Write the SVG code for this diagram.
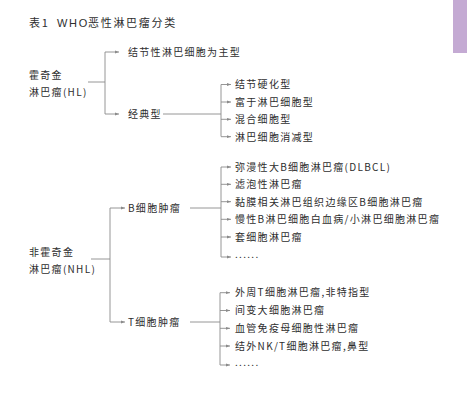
<svg xmlns="http://www.w3.org/2000/svg" width="467" height="401" viewBox="0 0 467 401">
<style>
text{font-family:"Noto Sans CJK SC","Liberation Sans",sans-serif;font-size:10px;fill:#2e2e2e;letter-spacing:1.3px}
.t{font-size:11px;letter-spacing:1.7px}
.l{font-family:"Liberation Sans","Noto Sans CJK SC",sans-serif}
.c line,.c path{stroke:#8a8a8a;stroke-width:0.9;fill:none}
.a{marker-end:url(#ah)}
</style>
<defs>
<marker id="ah" markerWidth="5" markerHeight="4" refX="4" refY="2" orient="auto" markerUnits="userSpaceOnUse">
<path d="M0,0.6 L4,2 L0,3.4 Z" fill="#8a8a8a"/>
</marker>
</defs>
<rect x="453" y="0" width="14" height="53" fill="#c4aad3"/>
<g id="title"><text class="t" x="29" y="27">表1</text><text class="t l" x="57" y="27">WHO</text><text class="t" x="88" y="27">恶性淋巴瘤分类</text></g>
<g class="c">
<line x1="88" y1="82" x2="105" y2="82"/>
<path d="M105,52 V114"/>
<line class="a" x1="105" y1="52" x2="119" y2="52"/>
<line class="a" x1="105" y1="114" x2="119" y2="114"/>
<line x1="163" y1="114" x2="221" y2="114"/>
<path d="M221,84.5 V136.5"/>
<line class="a" x1="221" y1="84.5" x2="231" y2="84.5"/>
<line class="a" x1="221" y1="102" x2="231" y2="102"/>
<line class="a" x1="221" y1="119.3" x2="231" y2="119.3"/>
<line class="a" x1="221" y1="136.7" x2="231" y2="136.7"/>
<line x1="91" y1="259" x2="110" y2="259"/>
<path d="M110,208 V322"/>
<line class="a" x1="110" y1="208" x2="125" y2="208"/>
<line class="a" x1="110" y1="322" x2="125" y2="322"/>
<line x1="190" y1="208" x2="221" y2="208"/>
<path d="M221,167 V257"/>
<line class="a" x1="221" y1="167" x2="231" y2="167"/>
<line class="a" x1="221" y1="184.3" x2="231" y2="184.3"/>
<line class="a" x1="221" y1="201.7" x2="231" y2="201.7"/>
<line class="a" x1="221" y1="219.3" x2="231" y2="219.3"/>
<line class="a" x1="221" y1="237" x2="231" y2="237"/>
<line class="a" x1="221" y1="257" x2="231" y2="257"/>
<line x1="190" y1="322" x2="220" y2="322"/>
<path d="M220,292.7 V365"/>
<line class="a" x1="220" y1="292.7" x2="230" y2="292.7"/>
<line class="a" x1="220" y1="310.5" x2="230" y2="310.5"/>
<line class="a" x1="220" y1="328.3" x2="230" y2="328.3"/>
<line class="a" x1="220" y1="346" x2="230" y2="346"/>
<line class="a" x1="220" y1="365" x2="230" y2="365"/>
</g>
<g id="hl"><text x="29" y="79">霍奇金</text><text x="29" y="96">淋巴瘤(HL)</text></g>
<g id="hl1"><text x="128" y="55.5">结节性淋巴细胞为主型</text></g>
<g id="hl2"><text x="128" y="117.5">经典型</text></g>
<g id="hl2a"><text x="235" y="88">结节硬化型</text></g>
<g id="hl2b"><text x="235" y="105.5">富于淋巴细胞型</text></g>
<g id="hl2c"><text x="235" y="123">混合细胞型</text></g>
<g id="hl2d"><text x="235" y="140.5">淋巴细胞消减型</text></g>
<g id="nhl"><text x="29" y="256">非霍奇金</text><text x="29" y="273">淋巴瘤(NHL)</text></g>
<g id="b"><text x="128" y="211.5">B细胞肿瘤</text></g>
<g id="b1"><text x="235" y="170.5">弥漫性大B细胞淋巴瘤(DLBCL)</text></g>
<g id="b2"><text x="235" y="188">滤泡性淋巴瘤</text></g>
<g id="b3"><text x="235" y="205.5">黏膜相关淋巴组织边缘区B细胞淋巴瘤</text></g>
<g id="b4"><text x="235" y="223">慢性B淋巴细胞白血病/小淋巴细胞淋巴瘤</text></g>
<g id="b5"><text x="235" y="240.5">套细胞淋巴瘤</text></g>
<g id="b6"><text x="235" y="258">......</text></g>
<g id="t"><text x="128" y="325.5">T细胞肿瘤</text></g>
<g id="t1"><text x="235" y="296">外周T细胞淋巴瘤,非特指型</text></g>
<g id="t2"><text x="235" y="314">间变大细胞淋巴瘤</text></g>
<g id="t3"><text x="235" y="332">血管免疫母细胞性淋巴瘤</text></g>
<g id="t4"><text x="235" y="349.5">结外NK/T细胞淋巴瘤,鼻型</text></g>
<g id="t5"><text x="235" y="366">......</text></g>
</svg>
